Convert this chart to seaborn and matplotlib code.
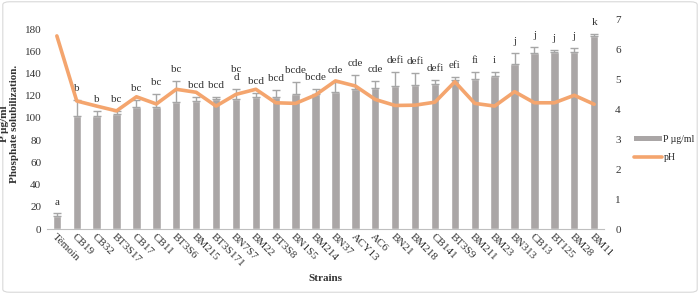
import numpy as np
import pandas as pd
import matplotlib
matplotlib.use("Agg")
import matplotlib.pyplot as plt
import seaborn as sns
from matplotlib.patches import FancyBboxPatch
from matplotlib.lines import Line2D
from matplotlib.patches import Patch

strains = ["Témoin", "CB19", "CB32", "BT3S17", "CB17", "CB11", "BT3S6", "BM215", "BT3S171",
           "BN7S7", "BM22", "BT3S8", "BN1S5", "BM214", "BN37", "ACY13", "AC6", "BN21", "BM218",
           "CB141", "BT3S9", "BM211", "BM23", "BN313", "CB13", "BT125", "BM28", "BM11"]
p_values = [12, 101.5, 101.5, 104, 109.5, 110, 114, 115.5, 117, 117.5, 118.5, 119, 122, 121.5,
            123.5, 126, 127, 129, 129.5, 131, 134, 135, 138, 148.5, 158.5, 159, 159, 174]
p_err = [2, 15, 5, 2, 7, 12, 19, 3.5, 1.5, 8.5, 4, 6, 10, 5, 9, 13, 6, 12, 11, 3, 3, 6.5,
         3.5, 10, 5, 2, 4, 2]
ph_values = [6.44, 4.27, 4.10, 3.94, 4.41, 4.17, 4.66, 4.56, 4.10, 4.49, 4.66, 4.21, 4.19, 4.47,
             4.94, 4.77, 4.32, 4.12, 4.13, 4.23, 4.91, 4.19, 4.10, 4.58, 4.21, 4.21, 4.46, 4.16]
letters = ["a", "b", "b", "bc", "bc", "bc", "bc", "bcd", "bcd", "bc\nd", "bcd", "bcd", "bcde",
           "bcde", "cde", "cde", "cde", "defi", "defi", "defi", "efi", "fi", "i", "j", "j", "j",
           "j", "k"]
left_ticks = [0, 20, 40, 60, 80, 100, 120, 140, 160, 180]
right_ticks = [0, 1, 2, 3, 4, 5, 6, 7]

sns.set_theme(style="white")
plt.rcParams['font.family'] = ['Liberation Serif', 'DejaVu Serif']

bar_color = "#aaa6a6"
line_color = "#f4a56e"
text_color = "#333333"

df = pd.DataFrame({"strain": strains, "P": p_values, "err": p_err, "pH": ph_values})
pos = np.arange(len(strains))

fig = plt.figure(figsize=(7.0, 2.94), dpi=100)
fig.patch.set_facecolor("white")
border = FancyBboxPatch((0.004, 0.006), 0.992, 0.988, boxstyle="round,pad=0,rounding_size=0.01",
                        transform=fig.transFigure, facecolor="white", edgecolor="#d9d9d9",
                        linewidth=0.8, zorder=-10)
fig.patches.append(border)

ax = fig.add_axes([0.067, 0.221, 0.796, 0.714])
ax.set_facecolor("none")
sns.barplot(data=df, x="strain", y="P", color=bar_color, width=0.42, saturation=1,
            errorbar=None, ax=ax, zorder=2)
ax.errorbar(pos, df["P"], yerr=[np.zeros(len(pos)), df["err"]], fmt="none",
            ecolor="#a6a6a6", elinewidth=1.0, capsize=3, capthick=1.0, zorder=3)
for x, v, e, t in zip(pos, p_values, p_err, letters):
    ax.annotate(t, (x, v + e), xytext=(0, 5), textcoords="offset points",
                ha="center", va="bottom", fontsize=8, color=text_color,
                linespacing=0.9)

ax.set_ylim(0, 189)
ax.set_xlim(-0.5, len(strains) - 0.5)
ax.set_yticks(left_ticks)
ax.tick_params(axis="y", labelsize=8, colors=text_color, length=0, pad=4)
ax.tick_params(axis="x", length=0, pad=2)
ax.set_xticks(pos)
ax.set_xticklabels(strains, rotation=-45, ha="left", rotation_mode="anchor",
                   fontsize=8, color=text_color)
for s in ["top", "right", "left"]:
    ax.spines[s].set_visible(False)
ax.spines["bottom"].set_color("#bfbfbf")
ax.spines["bottom"].set_linewidth(0.8)
ax.set_xlabel("Strains", fontsize=8, fontweight="bold", color=text_color, labelpad=4)
ax.set_ylabel("P µg/ml\nPhosphate solubilization.", fontsize=8, fontweight="bold",
              color=text_color, labelpad=4, linespacing=1.1)

ax2 = ax.twinx()
sns.lineplot(x=pos, y=ph_values, ax=ax2, color=line_color, linewidth=2.6, sort=False,
             zorder=4)
ax2.set_ylim(0, 7)
ax2.set_yticks(right_ticks)
ax2.tick_params(axis="y", labelsize=8, colors=text_color, length=0, pad=8)
for s in ["top", "right", "left", "bottom"]:
    ax2.spines[s].set_visible(False)
ax2.set_ylabel("")

handles = [Patch(facecolor=bar_color, edgecolor="none"),
           Line2D([0], [0], color=line_color, linewidth=2.6)]
fig.legend(handles, ["P µg/ml", "pH"], loc="center left", bbox_to_anchor=(0.906, 0.495),
           frameon=False, fontsize=7, handlelength=2.9, handleheight=0.5,
           labelspacing=0.9, handletextpad=0.1, borderaxespad=0, borderpad=0)

fig.savefig("out.png", dpi=100)
